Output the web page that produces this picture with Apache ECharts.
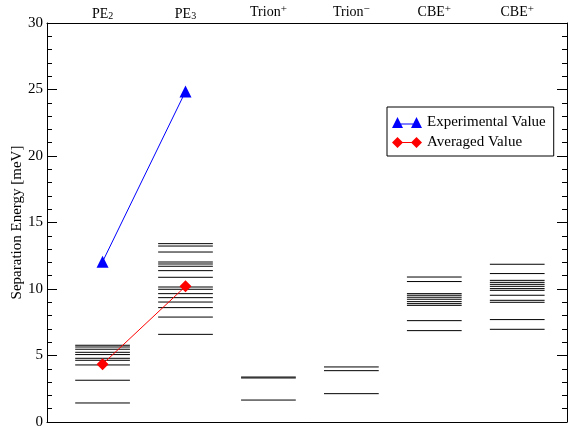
<!DOCTYPE html>
<html>
<head>
<meta charset="utf-8">
<script src="https://cdn.jsdelivr.net/npm/echarts@6/dist/echarts.min.js"></script>
<style>html,body{margin:0;padding:0;background:#fff;}#c{width:568px;height:428px;}</style>
</head>
<body>
<div id="c"></div>
<script>
// Category labels (top axis), as rich-text fragments
const categories = ['PE2', 'PE3', 'Trion+', 'Trion-', 'CBE+', 'CBE+'];
const categoryLabels = [
  '{b|PE}{sub|2}',
  '{b|PE}{sub|3}',
  '{b|Trion}{sup|+}',
  '{b|Trion}{sup|\u2212}',
  '{b|CBE}{sup|+}',
  '{b|CBE}{sup|+}'
];
// Energy levels per category [meV]
const levelsPE2 = [5.77, 5.64, 5.47, 5.24, 5.07, 4.79, 4.64, 4.29, 3.14, 1.43];
const levelsPE3 = [13.41, 13.23, 12.78, 12.03, 11.88, 11.71, 11.38, 10.88, 10.15, 9.98, 9.65, 9.35, 9.02, 8.60, 7.89, 6.59];
const levelsTrionPlus = [3.38, 3.31, 1.65];
const levelsTrionMinus = [4.14, 3.86, 2.13];
const levelsCBE1 = [10.90, 10.56, 9.65, 9.53, 9.38, 9.23, 9.05, 8.90, 8.77, 7.62, 6.87];
const levelsCBE2 = [11.86, 11.16, 10.65, 10.50, 10.35, 10.20, 10.03, 9.90, 9.53, 9.15, 9.00, 7.70, 6.97];
// Experimental and averaged values for PE2, PE3
const experimental = [12.05, 24.85];
const averaged = [4.35, 10.2];
const yTicks = [0, 5, 10, 15, 20, 25, 30];

const allLevels = [levelsPE2, levelsPE3, levelsTrionPlus, levelsTrionMinus, levelsCBE1, levelsCBE2];
const levelData = [];
allLevels.forEach((arr, i) => arr.forEach(v => levelData.push([i, v])));

const FONT = 'Liberation Serif';
const X_MIN = -0.67, X_MAX = 5.6, HALF = 0.33;

const chart = echarts.init(document.getElementById('c'), null, {renderer: 'canvas'});

const iconTri = 'path://M0,11 L5.5,0 L11,11 Z M5.5,6.5 L24.5,6.5 L24.5,7.5 L5.5,7.5 Z M19,11 L24.5,0 L30,11 Z';
const iconDia = 'path://M0,5.5 L5.5,0 L11,5.5 L5.5,11 Z M5.5,5 L24.5,5 L24.5,6 L5.5,6 Z M19,5.5 L24.5,0 L30,5.5 L24.5,11 Z';

chart.setOption({
  animation: false,
  backgroundColor: '#fff',
  textStyle: {fontFamily: FONT, color: '#000'},
  grid: {left: 47, right: 1, top: 23, bottom: 6, containLabel: false, outerBoundsMode: 'none'},
  legend: {
    orient: 'vertical',
    left: 387, top: 107,
    padding: [8, 8, 6, 5],
    itemGap: 5,
    itemWidth: 30, itemHeight: 11,
    borderColor: '#000', borderWidth: 1,
    backgroundColor: '#fff',
    textStyle: {fontFamily: FONT, fontSize: 15, color: '#000'},
    data: [
      {name: 'Experimental Value', icon: iconTri},
      {name: 'Averaged Value', icon: iconDia}
    ]
  },
  xAxis: [
    {
      type: 'value', position: 'bottom', min: X_MIN, max: X_MAX,
      axisLine: {show: true, onZero: false, lineStyle: {color: '#000', width: 1}},
      axisTick: {show: false}, axisLabel: {show: false}, splitLine: {show: false}
    },
    {
      type: 'value', position: 'top', min: X_MIN, max: X_MAX,
      axisLine: {show: true, onZero: false, lineStyle: {color: '#000', width: 1}},
      axisTick: {show: false}, splitLine: {show: false},
      axisLabel: {
        show: true,
        customValues: categories.map((c, i) => i),
        margin: 2,
        formatter: function (v) {
          const i = Math.round(v);
          return categoryLabels[i] || '';
        },
        rich: {
          b: {fontFamily: FONT, fontSize: 14, color: '#000'},
          sub: {fontFamily: FONT, fontSize: 10, color: '#000', verticalAlign: 'bottom', padding: [4, 0, 0, 0]},
          sup: {fontFamily: FONT, fontSize: 11, color: '#000', verticalAlign: 'top', padding: [0, 0, 6, 0]}
        }
      }
    }
  ],
  yAxis: [
    {
      type: 'value', min: 0, max: 30, interval: 5, position: 'left',
      name: 'Separation Energy [meV]', nameLocation: 'middle', nameGap: 22,
      nameMoveOverlap: false,
      nameTextStyle: {fontFamily: FONT, fontSize: 15, color: '#000'},
      axisLine: {show: true, onZero: false, lineStyle: {color: '#000', width: 1}},
      axisTick: {show: true, inside: true, length: 10, lineStyle: {color: '#000'}},
      minorTick: {show: true, splitNumber: 5, length: 5, lineStyle: {color: '#000'}},
      axisLabel: {fontFamily: FONT, fontSize: 15, color: '#000', margin: 4,
        customValues: yTicks},
      splitLine: {show: false}
    },
    {
      type: 'value', min: 0, max: 30, interval: 5, position: 'right',
      axisLine: {show: true, onZero: false, lineStyle: {color: '#000', width: 1}},
      axisTick: {show: true, inside: true, length: 10, lineStyle: {color: '#000'}},
      minorTick: {show: true, splitNumber: 5, length: 5, lineStyle: {color: '#000'}},
      axisLabel: {show: false},
      splitLine: {show: false}
    }
  ],
  series: [
    {
      type: 'custom',
      name: 'levels',
      xAxisIndex: 0, yAxisIndex: 0,
      data: levelData,
      renderItem: function (params, api) {
        const x = api.value(0), y = api.value(1);
        const p1 = api.coord([x - HALF, y]);
        const p2 = api.coord([x + HALF, y]);
        return {
          type: 'line',
          shape: {x1: p1[0], y1: p1[1], x2: p2[0], y2: p2[1]},
          style: {stroke: '#000', lineWidth: 1}
        };
      },
      z: 1
    },
    {
      type: 'line', name: 'Experimental Value',
      xAxisIndex: 0, yAxisIndex: 0,
      data: experimental.map((v, i) => [i, v]),
      color: '#0000ff',
      symbol: 'triangle', symbolSize: 12,
      lineStyle: {color: '#0000ff', width: 1},
      itemStyle: {color: '#0000ff'},
      z: 3
    },
    {
      type: 'line', name: 'Averaged Value',
      xAxisIndex: 0, yAxisIndex: 0,
      data: averaged.map((v, i) => [i, v]),
      color: '#ff0000',
      symbol: 'diamond', symbolSize: 12,
      lineStyle: {color: '#ff0000', width: 1},
      itemStyle: {color: '#ff0000'},
      z: 3
    }
  ]
});
</script>
</body>
</html>
